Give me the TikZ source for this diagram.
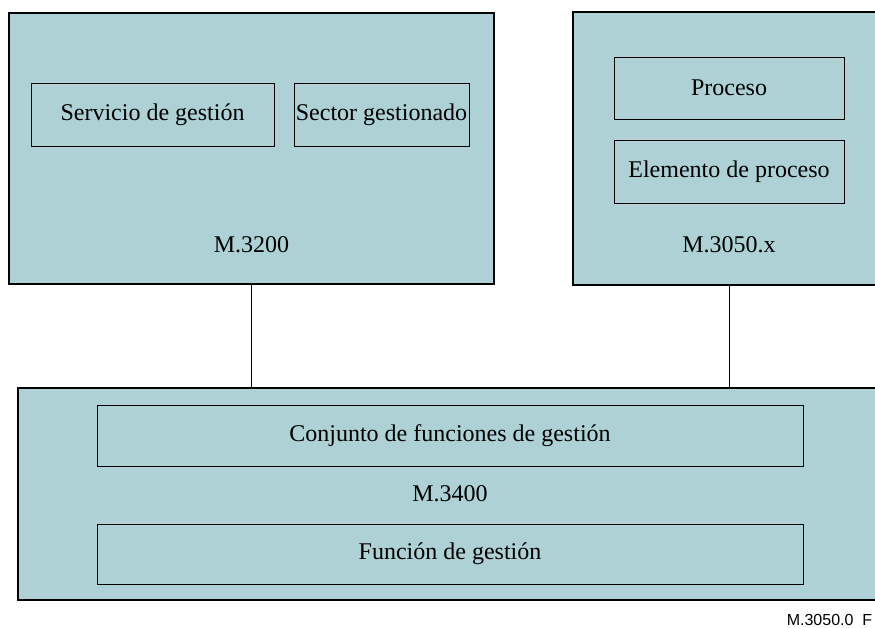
\documentclass[tikz,border=0pt]{standalone}
\usepackage{fontspec}
\setmainfont{Liberation Serif}
\setsansfont{Liberation Sans}
\definecolor{gestfill}{RGB}{173,209,212}

\tikzset{
  outerbox/.style = {draw, line width=2.8pt, fill=gestfill, inner sep=0pt},
  innerbox/.style = {draw, line width=0.9pt, fill=gestfill, inner sep=0pt, font=\fontsize{24}{28}\selectfont},
  reclabel/.style = {inner sep=0pt, font=\fontsize{24}{28}\selectfont}
}

\begin{document}
\begin{tikzpicture} [x = 1pt, y = -1pt]

\useasboundingbox (0, 0) rectangle (875, 628);
\begin{scope}
\clip (0, 0) rectangle (875, 628);
% upper boxes
\node[outerbox, minimum width = 485pt, minimum height = 271pt] (m3200) at (251.5, 148.5){};
\node[outerbox, minimum width = 312pt, minimum height = 273pt] (m3050x) at (729.0, 148.5){};
\node[innerbox, minimum width = 243pt, minimum height = 63pt] (servicio) at (152.5, 114.5){Servicio de gestión};
\node[innerbox, minimum width = 175pt, minimum height = 63pt] (sector) at (381.5, 114.5){Sector gestionado};
\node[reclabel] (lbl3200) at (251.5, 245.0){M.3200};
\node[innerbox, minimum width = 230pt, minimum height = 62pt] (proceso) at (729.0, 88.0){Proceso};
\node[innerbox, minimum width = 230pt, minimum height = 63pt] (elemento) at (729.0, 171.5){Elemento de proceso};
\node[reclabel] (lbl3050x) at (729.0, 245.0){M.3050.x};
% lower box
\node[outerbox, minimum width = 864pt, minimum height = 212pt] (m3400) at (450.0, 494.0){};
\node[innerbox, minimum width = 706pt, minimum height = 61pt] (conjunto) at (450.0, 435.5){Conjunto de funciones de gestión};
\node[reclabel] (lbl3400) at (450.0, 494.0){M.3400};
\node[innerbox, minimum width = 706pt, minimum height = 60pt] (funcion) at (450.0, 554.0){Función de gestión};
% links
\draw[line width = 1pt] (m3200.south) -- (m3200.south |- m3400.north);
\draw[line width = 1pt] (m3050x.south) -- (m3050x.south |- m3400.north);
\end{scope}

\node[inner sep = 0pt, font = \sffamily\fontsize{16}{19}\selectfont] (figref) at (829.5, 620.0){M.3050.0\ \ F};
\end{tikzpicture}
\end{document}
